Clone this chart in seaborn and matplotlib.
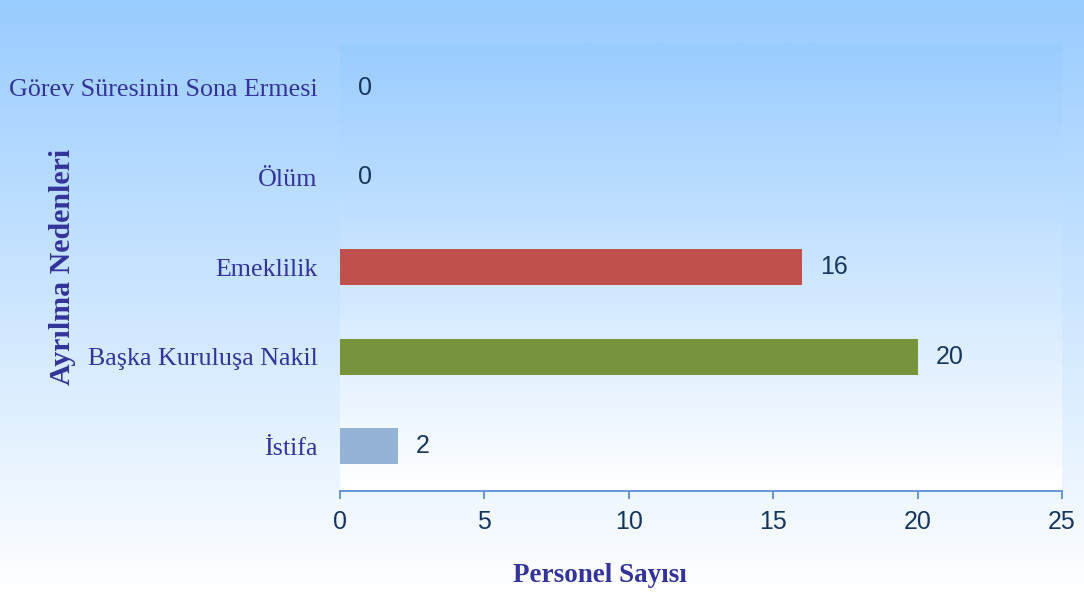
import numpy as np
import matplotlib
matplotlib.use("Agg")
import matplotlib.pyplot as plt
from matplotlib.colors import LinearSegmentedColormap
import seaborn as sns
import pandas as pd

categories = ["Görev Süresinin Sona Ermesi", "Ölüm", "Emeklilik", "Başka Kuruluşa Nakil", "İstifa"]
values = [0, 0, 16, 20, 2]
bar_colors = ["#95b3d7", "#95b3d7", "#c0504d", "#77933c", "#95b3d7"]
x_ticks = [0, 5, 10, 15, 20, 25]
x_label = "Personel Sayısı"
y_label = "Ayrılma Nedenleri"

sns.set_theme(style="white")
plt.rcParams["font.family"] = ["Liberation Sans", "DejaVu Sans"]

W, H = 1084, 594
fig = plt.figure(figsize=(W / 100, H / 100), dpi=100)

grad_cmap = LinearSegmentedColormap.from_list("g", ["#99ccff", "#ffffff"])
grad = np.linspace(0, 1, 256).reshape(-1, 1)

# figure background gradient
bg = fig.add_axes([0, 0, 1, 1], zorder=0)
bg.imshow(grad, aspect="auto", cmap=grad_cmap, extent=[0, 1, 0, 1], origin="upper")
bg.axis("off")

pos = [340 / W, (H - 491) / H, 722 / W, 448 / H]
pbg = fig.add_axes(pos, zorder=1)
pbg.imshow(grad, aspect="auto", cmap=grad_cmap, extent=[0, 1, 0, 1], origin="upper")
pbg.axis("off")

ax = fig.add_axes(pos, zorder=2)
ax.set_facecolor("none")

df = pd.DataFrame({"cat": categories, "val": values})
sns.barplot(data=df, x="val", y="cat", hue="cat", palette=bar_colors, orient="h",
            width=0.4, legend=False, ax=ax, saturation=1, linewidth=0, edgecolor="none")

ax.set_xlim(0, 25)
ax.set_ylim(len(categories) - 0.5, -0.5)
ax.set_xticks(x_ticks)
ax.set_xticklabels([str(t) for t in x_ticks])

for i, v in enumerate(values):
    ax.annotate(str(v), xy=(v, i), xytext=(13, 0), textcoords="offset points",
                ha="left", va="center", fontsize=18, color="#17375e")

for s in ["top", "right", "left"]:
    ax.spines[s].set_visible(False)
ax.spines["bottom"].set_color("#5b8fd6")
ax.spines["bottom"].set_linewidth(1.3)

ax.tick_params(axis="x", which="both", bottom=True, length=6, width=1.3, color="#5b8fd6",
               labelsize=18, labelcolor="#17375e", pad=8)
ax.tick_params(axis="y", left=False, length=0, pad=16)
for lab in ax.get_yticklabels():
    lab.set_fontfamily("Liberation Serif")
    lab.set_fontsize(18.7)
    lab.set_color("#333399")

ax.set_xlabel(x_label, fontfamily="Liberation Serif", fontweight="bold", fontsize=19.5,
              color="#333399", va="center")
ax.xaxis.set_label_coords(0.36, (491 - 575) / 448)
ax.set_ylabel(y_label, fontfamily="Liberation Serif", fontweight="bold", fontsize=21.5,
              color="#333399", va="center")
ax.yaxis.set_label_coords((62 - 340) / 722, 0.5)

fig.savefig("out.png", dpi=100)
